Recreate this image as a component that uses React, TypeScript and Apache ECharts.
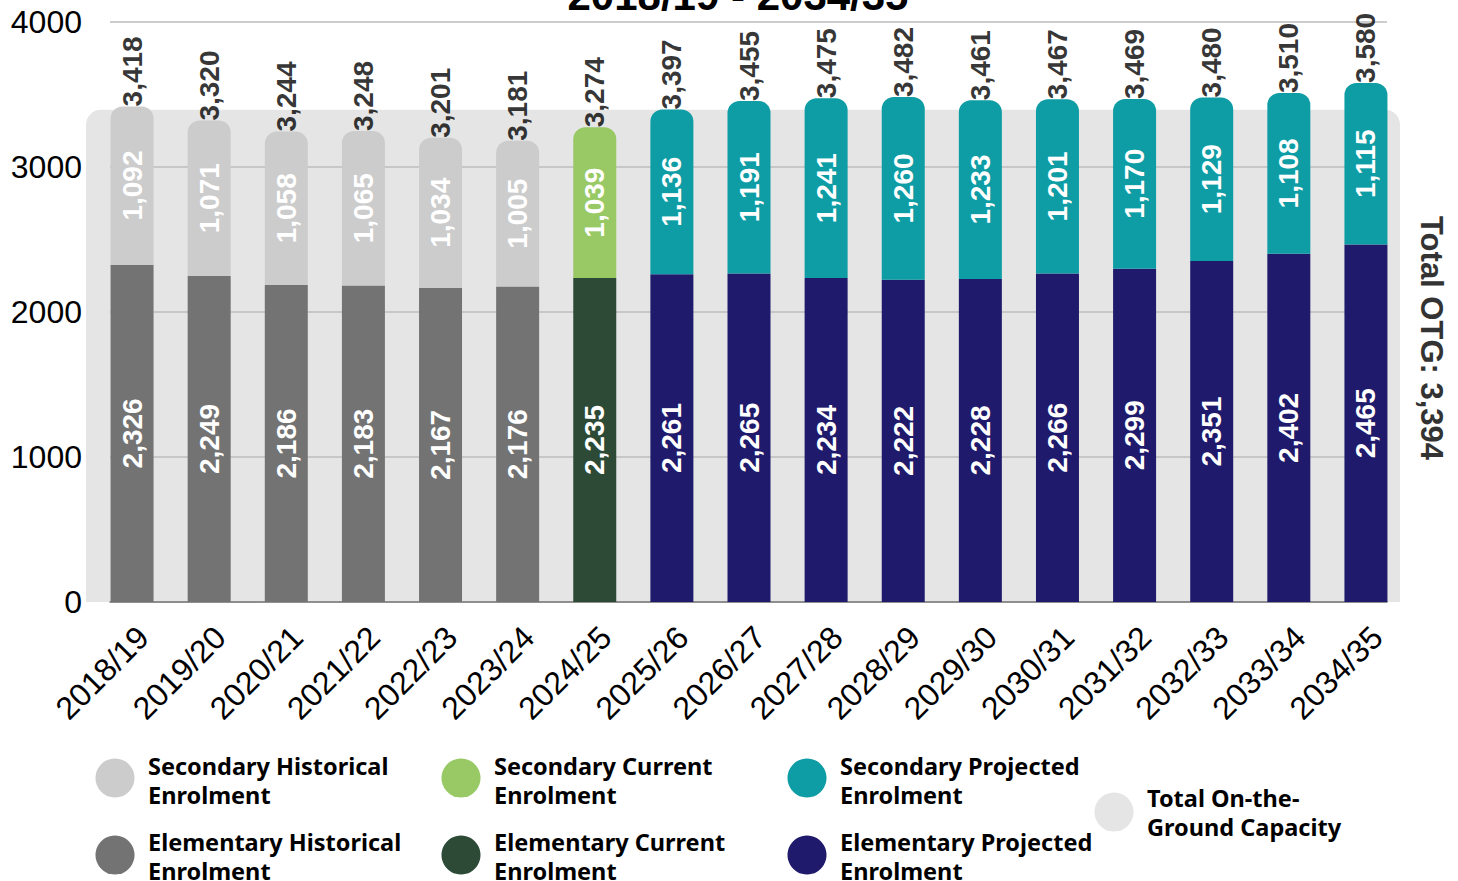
import React, { useEffect, useRef } from "react";
import * as echarts from "echarts";

const categories = [
  "2018/19", "2019/20", "2020/21", "2021/22", "2022/23", "2023/24", "2024/25",
  "2025/26", "2026/27", "2027/28", "2028/29", "2029/30", "2030/31", "2031/32",
  "2032/33", "2033/34", "2034/35",
];
const phases = [
  "historical", "historical", "historical", "historical", "historical", "historical",
  "current",
  "projected", "projected", "projected", "projected", "projected", "projected",
  "projected", "projected", "projected", "projected",
];
const elementary = [2326, 2249, 2186, 2183, 2167, 2176, 2235, 2261, 2265, 2234, 2222, 2228, 2266, 2299, 2351, 2402, 2465];
const secondary = [1092, 1071, 1058, 1065, 1034, 1005, 1039, 1136, 1191, 1241, 1260, 1233, 1201, 1170, 1129, 1108, 1115];
const totals = [3418, 3320, 3244, 3248, 3201, 3181, 3274, 3397, 3455, 3475, 3482, 3461, 3467, 3469, 3480, 3510, 3580];
const capacity = 3394;
const yMin = 0;
const yMax = 4000;
const yInterval = 1000;
const titleText = "2018/19 - 2034/35";
const capacityLabel = "Total OTG";

const palette: Record<string, { secondary: string; elementary: string }> = {
  historical: { secondary: "#cccccc", elementary: "#737373" },
  current: { secondary: "#98c965", elementary: "#2d4a37" },
  projected: { secondary: "#0e9ca5", elementary: "#1f1a6b" },
};
const capacityColor = "#e5e5e5";

const legendItems = [
  { text: "Secondary Historical\nEnrolment", color: palette.historical.secondary, cx: 115, cy: 778, ty: 780 },
  { text: "Elementary Historical\nEnrolment", color: palette.historical.elementary, cx: 115, cy: 855, ty: 856 },
  { text: "Secondary Current\nEnrolment", color: palette.current.secondary, cx: 461, cy: 778, ty: 780 },
  { text: "Elementary Current\nEnrolment", color: palette.current.elementary, cx: 461, cy: 855, ty: 856 },
  { text: "Secondary Projected\nEnrolment", color: palette.projected.secondary, cx: 807, cy: 778, ty: 780 },
  { text: "Elementary Projected\nEnrolment", color: palette.projected.elementary, cx: 807, cy: 855, ty: 856 },
  { text: "Total On-the-\nGround Capacity", color: capacityColor, cx: 1114, cy: 812, ty: 812 },
];

const fmt = (v: number) => v.toLocaleString("en-US");
const AX_FONT = "Liberation Sans, Arial, sans-serif";

export default function App() {
  const ref = useRef<HTMLDivElement>(null);
  useEffect(() => {
    if (!ref.current) return;
    const chart = echarts.init(ref.current, null, { renderer: "svg" });
    const top = 22;
    const bottom = 279;
    const barGridLeft = 93.5;
    const barGridRight = 53.5;

    const legendGraphics: any[] = [];
    legendItems.forEach((it) => {
      legendGraphics.push({
        type: "circle",
        shape: { cx: it.cx, cy: it.cy, r: 19.5 },
        style: { fill: it.color },
        silent: true,
      });
      legendGraphics.push({
        type: "text",
        x: it.cx + 33,
        y: it.ty,
        style: {
          text: it.text,
          fontFamily: "Noto Sans, sans-serif",
          fontWeight: "bold",
          fontSize: 23.5,
          lineHeight: 29,
          fill: "#000000",
          align: "left",
          verticalAlign: "middle",
        },
        silent: true,
      });
    });

    const valueLabel = (color: string) => ({
      show: true,
      rotate: 90,
      color,
      fontSize: 28,
      fontWeight: "bold",
      fontFamily: AX_FONT,
      formatter: (p: any) => fmt(p.value),
    });

    const option: any = {
      animation: false,
      grid: [
        { left: barGridLeft, right: barGridRight, top, bottom },
        { left: 110, right: 71, top, bottom },
        { left: 86, right: 58, top, bottom },
        { left: barGridLeft + 11, right: barGridRight - 11, top, bottom },
      ],
      xAxis: [
        { gridIndex: 0, type: "category", data: categories, axisLine: { show: false }, axisTick: { show: false }, axisLabel: { show: false } },
        {
          gridIndex: 1, type: "category", data: [""], z: 2,
          axisLine: { show: true, lineStyle: { color: "#7a7a7a", width: 1.5 } },
          axisTick: { show: false }, axisLabel: { show: false },
        },
        { gridIndex: 2, type: "category", data: [capacityLabel], show: false },
        {
          gridIndex: 3, type: "category", data: categories,
          axisLine: { show: false }, axisTick: { show: false },
          axisLabel: { rotate: 45, margin: 30, fontSize: 32, color: "#000000", fontFamily: AX_FONT, interval: 0 },
        },
      ],
      yAxis: [
        { gridIndex: 0, type: "value", min: yMin, max: yMax, show: false },
        {
          gridIndex: 1, type: "value", min: yMin, max: yMax, interval: yInterval, z: 2,
          axisLine: { show: false }, axisTick: { show: false },
          axisLabel: { fontSize: 32, margin: 28, color: "#000000", fontFamily: AX_FONT, formatter: (v: number) => String(v) },
          splitLine: { show: true, lineStyle: { color: "#bdbdbd", width: 1.5 } },
        },
        { gridIndex: 2, type: "value", min: yMin, max: yMax, show: false },
        { gridIndex: 3, type: "value", min: yMin, max: yMax, show: false },
      ],
      series: [
        {
          name: "Total On-the-Ground Capacity",
          type: "bar",
          xAxisIndex: 2,
          yAxisIndex: 2,
          data: [capacity],
          barWidth: "100%",
          silent: true,
          z: 1,
          itemStyle: { color: capacityColor, borderRadius: [15, 15, 0, 0] },
        },
        {
          name: "Elementary",
          type: "bar",
          xAxisIndex: 0,
          yAxisIndex: 0,
          stack: "enrol",
          barWidth: 43,
          z: 3,
          data: elementary.map((v, i) => ({ value: v, itemStyle: { color: palette[phases[i]].elementary } })),
          label: { ...valueLabel("#ffffff"), position: "inside" },
        },
        {
          name: "Secondary",
          type: "bar",
          xAxisIndex: 0,
          yAxisIndex: 0,
          stack: "enrol",
          barWidth: 43,
          z: 3,
          data: secondary.map((v, i) => ({
            value: v,
            itemStyle: { color: palette[phases[i]].secondary, borderRadius: [12, 12, 0, 0] },
          })),
          label: { ...valueLabel("#ffffff"), position: "inside" },
        },
        {
          name: "Total",
          type: "scatter",
          xAxisIndex: 0,
          yAxisIndex: 0,
          symbolSize: 0,
          z: 4,
          data: totals,
          label: {
            ...valueLabel("#000000"),
            position: "top",
            distance: 0,
            align: "left",
            verticalAlign: "middle",
          },
        },
      ],
      graphic: [
        {
          type: "text",
          x: 738,
          y: -5,
          style: {
            text: titleText,
            fontFamily: AX_FONT,
            fontWeight: "bold",
            fontSize: 42,
            fill: "#000000",
            align: "center",
            verticalAlign: "middle",
          },
          silent: true,
        },
        {
          type: "text",
          x: 1431,
          y: 338,
          rotation: -Math.PI / 2,
          style: {
            text: `${capacityLabel}: ${fmt(capacity)}`,
            fontFamily: AX_FONT,
            fontWeight: "bold",
            fontSize: 31,
            fill: "#333333",
            align: "center",
            verticalAlign: "middle",
          },
          silent: true,
        },
        ...legendGraphics,
      ],
    };
    chart.setOption(option);
    return () => chart.dispose();
  }, []);

  return (
    <div
      ref={ref}
      style={{ position: "fixed", left: 0, top: 0, width: 1458, height: 881, background: "#ffffff" }}
    />
  );
}
